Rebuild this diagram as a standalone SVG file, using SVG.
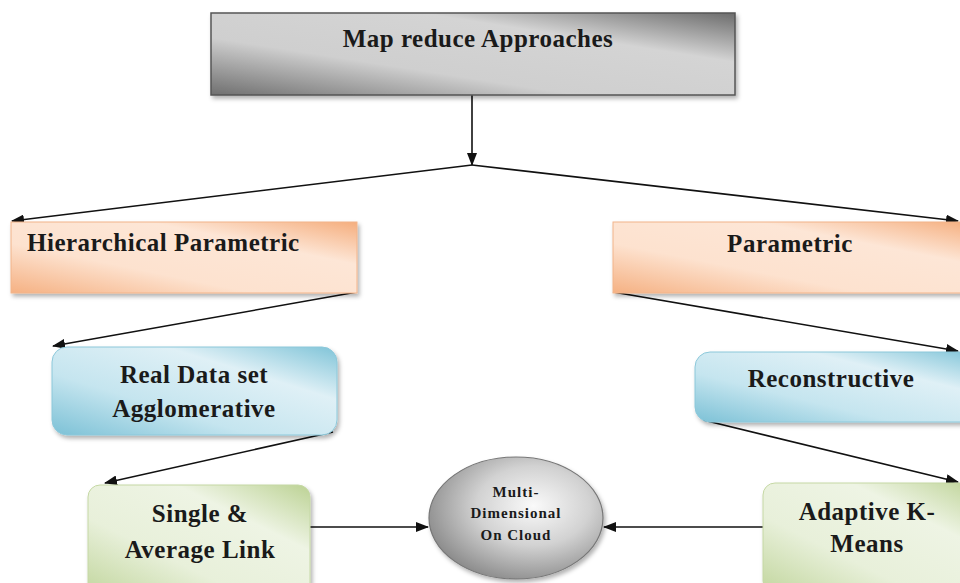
<svg xmlns="http://www.w3.org/2000/svg" width="960" height="583" viewBox="0 0 960 583">
<style>
  .lbl { font-family: "Liberation Serif", "Times New Roman", serif; font-weight: bold; font-size: 25px; letter-spacing: 0.5px; fill: #1a1a1a; }
  .sm { font-family: "Liberation Serif", "Times New Roman", serif; font-weight: bold; font-size: 15px; letter-spacing: 1px; fill: #1a1a1a; }
  .c { text-anchor: middle; }
  .edge { stroke: #111; stroke-width: 1.6; fill: none; marker-end: url(#ah); }
</style>
<defs>
  <marker id="ah" markerWidth="13" markerHeight="10" refX="12" refY="5" orient="auto" markerUnits="userSpaceOnUse">
    <path d="M0,0 L13,5 L0,10 Z" fill="#111"/>
  </marker>
  <filter id="sh" x="-10%" y="-10%" width="125%" height="130%">
    <feDropShadow dx="2" dy="3" stdDeviation="2" flood-color="#000" flood-opacity="0.3"/>
  </filter>
  <linearGradient id="gGray" x1="0" y1="1" x2="1" y2="0">
    <stop offset="0" stop-color="#6f6f6f"/>
    <stop offset="0.35" stop-color="#cfcfcf"/>
    <stop offset="0.7" stop-color="#d4d4d4"/>
    <stop offset="1" stop-color="#6c6c6c"/>
  </linearGradient>
  <linearGradient id="gOrange" x1="0" y1="1" x2="1" y2="0">
    <stop offset="0" stop-color="#f5b183"/>
    <stop offset="0.35" stop-color="#fde2cf"/>
    <stop offset="0.7" stop-color="#fde6d6"/>
    <stop offset="1" stop-color="#f5ae7e"/>
  </linearGradient>
  <linearGradient id="gBlue" x1="0" y1="1" x2="1" y2="0">
    <stop offset="0" stop-color="#7cc1d6"/>
    <stop offset="0.35" stop-color="#c5e5ef"/>
    <stop offset="0.7" stop-color="#dff0f6"/>
    <stop offset="1" stop-color="#80c4d8"/>
  </linearGradient>
  <linearGradient id="gGreen" x1="0" y1="1" x2="1" y2="0">
    <stop offset="0" stop-color="#c2d69e"/>
    <stop offset="0.35" stop-color="#e8f0da"/>
    <stop offset="0.7" stop-color="#eef4e4"/>
    <stop offset="1" stop-color="#bcd294"/>
  </linearGradient>
  <radialGradient id="gEll" cx="0.6" cy="0.4" r="0.65">
    <stop offset="0" stop-color="#fafafa"/>
    <stop offset="0.5" stop-color="#d2d2d2"/>
    <stop offset="1" stop-color="#8a8a8a"/>
  </radialGradient>
</defs>

<g id="connectors">
  <line class="edge" x1="472" y1="95" x2="472" y2="165"/>
  <line class="edge" x1="472" y1="165" x2="12" y2="221"/>
  <line class="edge" x1="472" y1="165" x2="958" y2="221"/>
  <line class="edge" x1="357" y1="292" x2="53" y2="346"/>
  <line class="edge" x1="613" y1="292" x2="958" y2="351"/>
  <line class="edge" x1="703" y1="420" x2="958" y2="482"/>
  <line class="edge" x1="333" y1="432" x2="105" y2="483"/>
  <line class="edge" x1="310" y1="527" x2="428" y2="527"/>
  <line class="edge" x1="763" y1="527" x2="604" y2="527"/>
</g>

<g id="map-reduce">
  <rect x="211" y="13" width="524" height="82" fill="url(#gGray)" stroke="#555" stroke-width="1.5" filter="url(#sh)"/>
  <text class="lbl c" x="478" y="47">Map reduce Approaches</text>
</g>

<g id="hierarchical">
  <rect x="11" y="222" width="346" height="71" fill="url(#gOrange)" stroke="#f2b48a" stroke-width="1" filter="url(#sh)"/>
  <text class="lbl" x="27" y="251">Hierarchical Parametric</text>
</g>

<g id="parametric">
  <rect x="613" y="222" width="360" height="71" fill="url(#gOrange)" stroke="#f2b48a" stroke-width="1" filter="url(#sh)"/>
  <text class="lbl c" x="790" y="252">Parametric</text>
</g>

<g id="real-data">
  <rect x="52" y="347" width="285" height="88" rx="15" fill="url(#gBlue)" stroke="#8cc8da" stroke-width="1" filter="url(#sh)"/>
  <text class="lbl c" x="194" y="383">Real Data set</text>
  <text class="lbl c" x="194" y="417">Agglomerative</text>
</g>

<g id="reconstructive">
  <rect x="695" y="352" width="285" height="70" rx="15" fill="url(#gBlue)" stroke="#8cc8da" stroke-width="1" filter="url(#sh)"/>
  <text class="lbl c" x="831" y="387">Reconstructive</text>
</g>

<g id="single-average">
  <rect x="88" y="485" width="222" height="110" rx="12" fill="url(#gGreen)" stroke="#c5d8a4" stroke-width="1" filter="url(#sh)"/>
  <text class="lbl c" x="200" y="522">Single &amp;</text>
  <text class="lbl c" x="200" y="558">Average Link</text>
</g>

<g id="adaptive">
  <rect x="763" y="483" width="220" height="110" rx="12" fill="url(#gGreen)" stroke="#c5d8a4" stroke-width="1" filter="url(#sh)"/>
  <text class="lbl c" x="867" y="520">Adaptive K-</text>
  <text class="lbl c" x="867" y="552">Means</text>
</g>

<g id="multi-dimensional">
  <ellipse cx="516" cy="518" rx="87" ry="61" fill="url(#gEll)" stroke="#777" stroke-width="1.2" filter="url(#sh)"/>
  <text class="sm c" x="516" y="497">Multi-</text>
  <text class="sm c" x="516" y="518">Dimensional</text>
  <text class="sm c" x="516" y="540">On Cloud</text>
</g>
</svg>
